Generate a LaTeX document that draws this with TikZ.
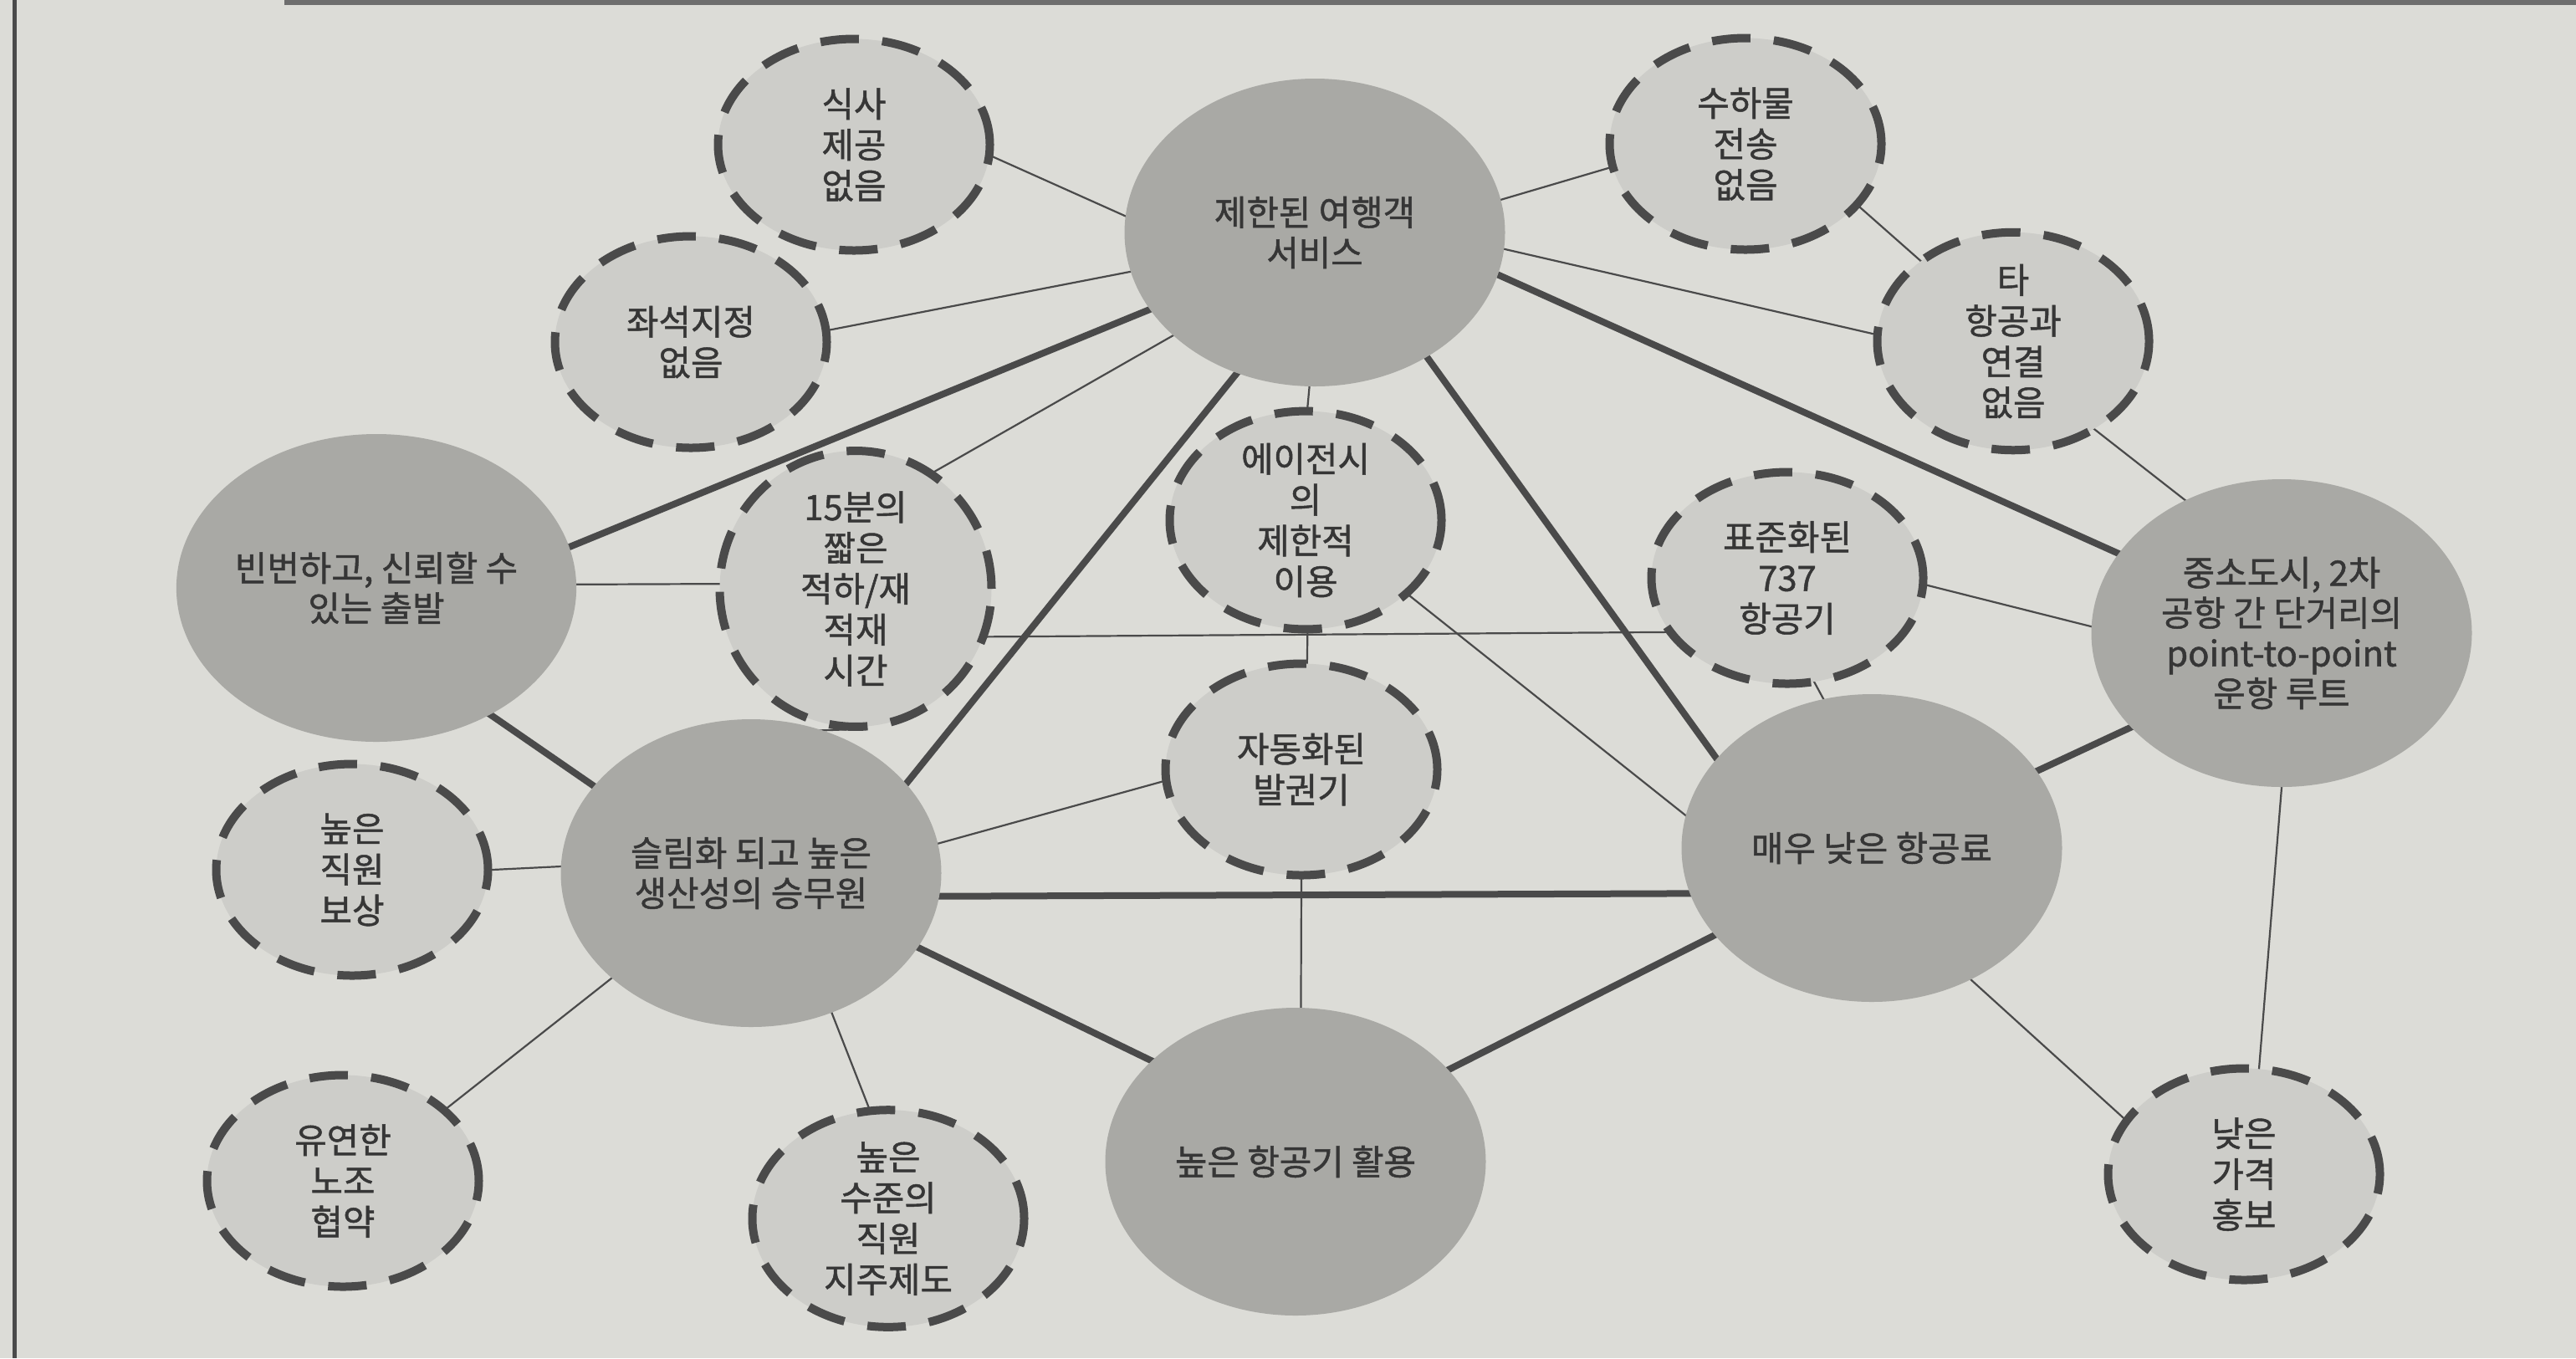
\documentclass[tikz,border=0pt]{standalone}
\usepackage{fontspec}
\setmainfont{Noto Sans CJK KR}[FakeBold=1.2]
\usepackage{tikz}
\usetikzlibrary{shapes.geometric}

\definecolor{paper}{HTML}{DCDCD7}
\definecolor{coregray}{HTML}{A9A9A5}
\definecolor{subgray}{HTML}{CDCDC9}
\definecolor{inkgray}{HTML}{4A4A4A}
\definecolor{textgray}{HTML}{363636}

\pgfdeclarelayer{back}
\pgfdeclarelayer{links}
\pgfsetlayers{back,links,main}

\begin{document}
\begin{tikzpicture}[
    every node/.style={align=center, text=textgray, font=\fontsize{11.9pt}{13.9pt}\selectfont},
    core/.style={ellipse, fill=coregray, inner sep=0pt, minimum width=4.55cm, minimum height=3.68cm, font=\fontsize{11.9pt}{13.7pt}\selectfont},
    sub/.style={ellipse, fill=subgray, draw=inkgray, line width=1mm, dash pattern=on 4.6mm off 2.8mm, inner sep=0pt, minimum width=3.25cm, minimum height=2.53cm},
    boldlink/.style={draw=inkgray, line width=0.8mm, shorten <=-1mm, shorten >=-1mm},
    thinlink/.style={draw=inkgray, line width=0.22mm, shorten <=-1mm, shorten >=-1mm}]
                \useasboundingbox (0,0) rectangle (30.8,-16.24);
                \begin{pgfonlayer}{back}
                \fill[paper] (0,0) rectangle (30.8,-16.24);
                \draw[inkgray, line width=0.5mm] (0.17,0) -- (0.17,-16.24);
                \draw[inkgray!80, line width=0.6mm] (3.4,-0.03) -- (30.8,-0.03);
                \end{pgfonlayer}
                
                % core activities
                \node[core] (service) at (15.72,-2.78) {제한된 여행객\\서비스};
                \node[core] (departure) at (4.50,-7.03) {빈번하고, 신뢰할 수\\있는 출발};
                \node[core] (crew) at (8.98,-10.44) {슬림화 되고 높은\\생산성의 승무원};
                \node[core] (utilize) at (15.49,-13.89) {높은 항공기 활용};
                \node[core] (fare) at (22.38,-10.14) {매우 낮은 항공료};
                \node[core] (route) at (27.28,-7.57) {중소도시, 2차\\공항 간 단거리의\\point-to-point\\운항 루트};
                
                % supporting activities
                \node[sub] (meal) at (10.21,-1.73) {식사\\제공\\없음};
                \node[sub] (seat) at (8.26,-4.09) {좌석지정\\없음};
                \node[sub] (bag) at (20.87,-1.72) {수하물\\전송\\없음};
                \node[sub] (connect) at (24.07,-4.08) {타\\항공과\\연결\\없음};
                \node[sub] (turn) at (10.23,-7.04) {15분의\\짧은\\적하/재\\적재\\시간};
                \node[sub] (agent) at (15.61,-6.22) {에이전시\\의\\제한적\\이용};
                \node[sub] (ticket) at (15.56,-9.20) {자동화된\\발권기};
                \node[sub] (fleet) at (21.37,-6.91) {표준화된\\737\\항공기};
                \node[sub] (pay) at (4.21,-10.40) {높은\\직원\\보상};
                \node[sub] (union) at (4.10,-14.12) {유연한\\노조\\협약};
                \node[sub] (stock) at (10.62,-14.57) {높은\\수준의\\직원\\지주제도};
                \node[sub] (promo) at (26.83,-14.04) {낮은\\가격\\홍보};
                
                \begin{pgfonlayer}{links}
                \draw[thinlink] (meal.-5) -- (service.175);
                \draw[thinlink] (seat.5) -- (service.192);
                \draw[thinlink] (bag.190) -- (service.10);
                \draw[thinlink] (connect.177) -- (service.-5);
                \draw[thinlink] (bag.-29) -- (connect.139);
                \draw[thinlink] (connect.-47) -- (route.126);
                \draw[thinlink] (turn.56) -- (service.216);
                \draw[thinlink] (service.-92) -- (agent.89);
                \draw[thinlink] (agent.-89) -- (ticket.87);
                \draw[thinlink] (agent.-36) -- (fare.170);
                \draw[thinlink] (departure.1) -- (turn.178);
                \draw[thinlink] (turn.-97) -- (crew.63);
                \draw[thinlink] (turn.-20) -- (fleet.204);
                \draw[thinlink] (fleet.-3) -- (route.178);
                \draw[thinlink] (fleet.-75) -- (fare.108);
                \draw[thinlink] (route.-90) -- (promo.82);
                \draw[thinlink] (fare.-53) -- (promo.155);
                \draw[thinlink] (ticket.185) -- (crew.9);
                \draw[thinlink] (ticket.-90) -- (utilize.88);
                \draw[thinlink] (pay.0) -- (crew.178);
                \draw[thinlink] (union.35) -- (crew.217);
                \draw[thinlink] (stock.100) -- (crew.-60);
                
                \draw[boldlink] (service.-13) -- (route.154);
                \draw[boldlink] (service.205) -- (departure.12);
                \draw[boldlink] (service.241) -- (crew.30);
                \draw[boldlink] (service.-48) -- (fare.150);
                \draw[boldlink] (fare.25) -- (route.212);
                \draw[boldlink] (crew.-7) -- (fare.194);
                \draw[boldlink] (utilize.31) -- (fare.209);
                \draw[boldlink] (crew.-24) -- (utilize.145);
                \draw[boldlink] (departure.-48) -- (crew.151);
                \end{pgfonlayer}
            \end{tikzpicture}
\end{document}
